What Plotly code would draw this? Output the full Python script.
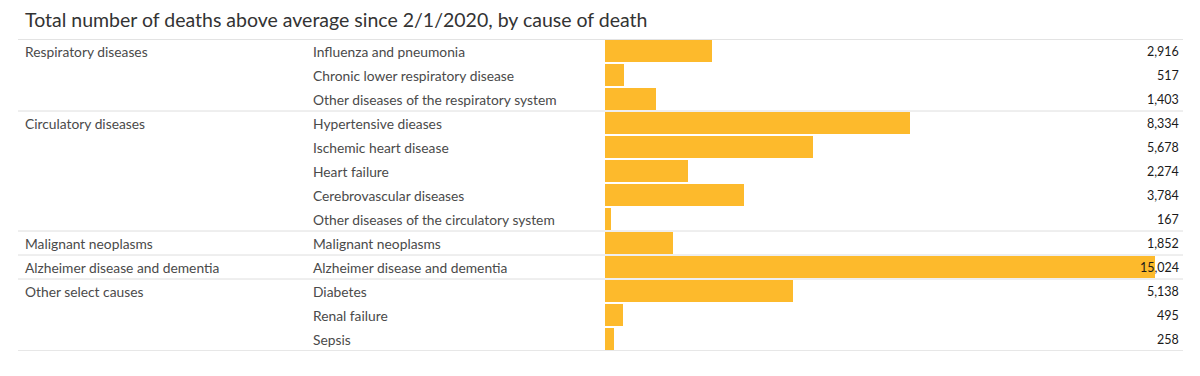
import plotly.graph_objects as go

title = "Total number of deaths above average since 2/1/2020, by cause of death"
groups = ["Respiratory diseases", "Circulatory diseases", "Malignant neoplasms",
          "Alzheimer disease and dementia", "Other select causes"]
group_sizes = [3, 5, 1, 1, 3]
causes = ["Influenza and pneumonia", "Chronic lower respiratory disease",
          "Other diseases of the respiratory system", "Hypertensive dieases",
          "Ischemic heart disease", "Heart failure", "Cerebrovascular diseases",
          "Other diseases of the circulatory system", "Malignant neoplasms",
          "Alzheimer disease and dementia", "Diabetes", "Renal failure", "Sepsis"]
deaths = [2916, 517, 1403, 8334, 5678, 2274, 3784, 167, 1852, 15024, 5138, 495, 258]

OX, OY = 8, 8          # page body margin
W, H = 1184, 360
FONT = "Lato"
BAR = "#FDBA2C"


def px(p):
    return (p - OX) / W


def py(p):
    return 1 - (p - OY) / H


n = len(causes)
idx = list(range(n))

fig = go.Figure()
fig.add_trace(go.Bar(x=deaths, y=idx, orientation="h", marker=dict(color=BAR, line=dict(width=0)),
                     width=0.9, hoverinfo="skip"))

ann = []
shapes = []
ann.append(dict(text=title, x=px(23), y=py(20), xref="paper", yref="paper",
                xanchor="left", yanchor="middle", showarrow=False,
                font=dict(family=FONT, size=19.5, color="#333333")))
start = 0
for g, s in zip(groups, group_sizes):
    ann.append(dict(text=g, x=px(23), y=start, xref="paper", yref="y",
                    xanchor="left", yanchor="middle", showarrow=False,
                    font=dict(family=FONT, size=13.8, color="#4a4a4a")))
    shapes.append(dict(type="line", xref="paper", yref="y", x0=px(18), x1=px(1183),
                       y0=start - 0.5, y1=start - 0.5,
                       line=dict(color="#c8c8c8" if start == 0 else "#dedede", width=1)))
    start += s
shapes.append(dict(type="line", xref="paper", yref="y", x0=px(18), x1=px(1183),
                   y0=n - 0.5, y1=n - 0.5, line=dict(color="#cfcfcf", width=1)))
for i, (c, v) in enumerate(zip(causes, deaths)):
    ann.append(dict(text=c, x=px(311), y=i, xref="paper", yref="y",
                    xanchor="left", yanchor="middle", showarrow=False,
                    font=dict(family=FONT, size=13.8, color="#4a4a4a")))
    ann.append(dict(text=f"{v:,}", x=px(1181), y=i, xref="paper", yref="y",
                    xanchor="right", yanchor="middle", showarrow=False,
                    font=dict(family=FONT, size=12.5, color="#1a1a1a")))

fig.update_layout(
    width=W, height=H, margin=dict(l=0, r=0, t=0, b=0),
    paper_bgcolor="white", plot_bgcolor="white", showlegend=False,
    xaxis=dict(domain=[px(605), px(1155)], range=[0, 15024], visible=False, fixedrange=True),
    yaxis=dict(domain=[py(351), py(39)], range=[n - 0.5, -0.5], visible=False, fixedrange=True),
    annotations=ann, shapes=shapes, bargap=0,
)
fig.write_html("out.html", config={"displayModeBar": False})
